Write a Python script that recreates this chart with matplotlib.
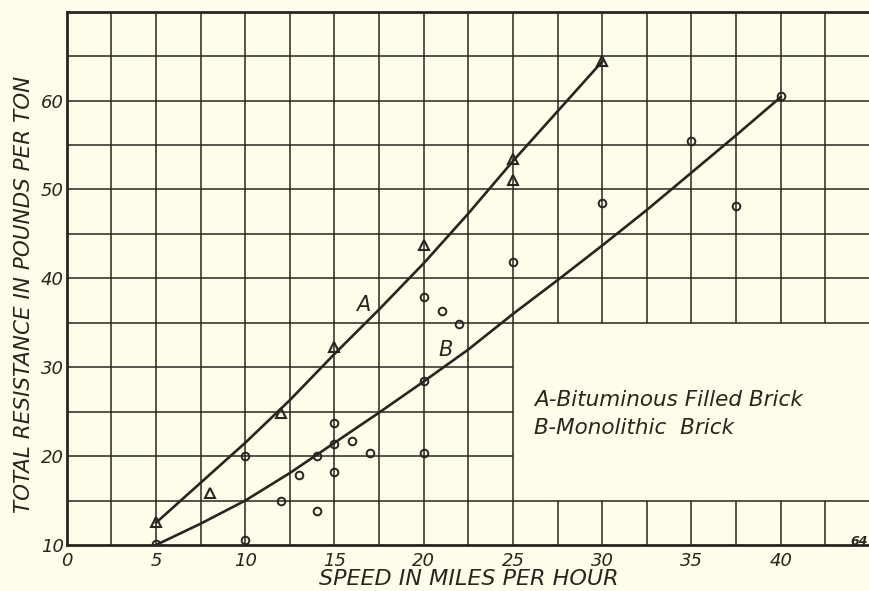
import numpy as np
import matplotlib.pyplot as plt

# readings (speed mph, resistance lb/ton)
tri_x = [5, 8, 12, 15, 20, 25, 25, 30]
tri_y = [12.6, 15.8, 24.9, 32.3, 43.8, 53.4, 51.1, 64.4]

circ_x = [5, 10, 10, 12, 13, 14, 14, 15, 15, 15, 16, 17, 20, 20, 20, 21, 22, 25, 30, 35, 37.5, 40]
circ_y = [10.1, 20.0, 10.6, 15.0, 17.9, 13.8, 20.0, 23.7, 21.4, 18.2, 21.7, 20.3,
          28.4, 20.3, 37.9, 36.3, 34.9, 41.8, 48.5, 55.4, 48.1, 60.5]

curve_a_x = [5, 7.5, 10, 12.5, 15, 17.5, 20, 22.5, 25, 27.5, 30]
curve_a_y = [12.5, 17.0, 21.5, 26.3, 31.5, 36.5, 41.7, 47.3, 53.2, 58.8, 64.4]

curve_b_x = [5, 7.5, 10, 12.5, 15, 17.5, 20, 22.5, 25, 27.5, 30, 32.5, 35, 37.5, 40]
curve_b_y = [10.0, 12.4, 15.0, 18.1, 21.5, 24.9, 28.4, 32.0, 36.0, 39.8, 43.7, 47.7, 51.9, 56.1, 60.4]

x_ticks = [0, 5, 10, 15, 20, 25, 30, 35, 40]
y_ticks = [10, 20, 30, 40, 50, 60]

paper = "#fdfde9"
ink = "#2a2420"
font = dict(family="DejaVu Sans", style="italic", color=ink)

fig = plt.figure(figsize=(8.7, 5.91), dpi=100, facecolor=paper)
ax = fig.add_axes([0.0767, 0.0778, 0.9233, 0.9024])
ax.set_facecolor(paper)
ax.set_xlim(0, 45)
ax.set_ylim(10, 70)

# grid, with the blank panel for the legend text (x 25-45, y 15-35)
for gx in np.arange(2.5, 45, 2.5):
    if gx > 25:
        ax.vlines(gx, 10, 15, color=ink, lw=1.1, zorder=1)
        ax.vlines(gx, 35, 70, color=ink, lw=1.1, zorder=1)
    else:
        ax.vlines(gx, 10, 70, color=ink, lw=1.1, zorder=1)
for gy in np.arange(15, 70, 5):
    if 15 < gy < 35:
        ax.hlines(gy, 0, 25, color=ink, lw=1.1, zorder=1)
    else:
        ax.hlines(gy, 0, 45, color=ink, lw=1.1, zorder=1)

for side in ["left", "bottom", "top"]:
    ax.spines[side].set_color(ink)
    ax.spines[side].set_linewidth(2)
ax.spines["right"].set_visible(False)

ax.plot(curve_a_x, curve_a_y, color=ink, lw=1.9, zorder=3)
ax.plot(curve_b_x, curve_b_y, color=ink, lw=1.9, zorder=3)
ax.plot(tri_x, tri_y, ls="none", marker="^", ms=7.5, mfc="none", mec=ink, mew=1.5, zorder=4)
ax.plot(circ_x, circ_y, ls="none", marker="o", ms=5.5, mfc="none", mec=ink, mew=1.4, zorder=4)

ax.text(16.6, 37.0, "A", fontsize=15, ha="center", va="center", **font)
ax.text(21.2, 31.9, "B", fontsize=15, ha="center", va="center", **font)
ax.text(26.2, 26.3, "A-Bituminous Filled Brick", fontsize=15.5, ha="left", va="center", **font)
ax.text(26.2, 23.2, "B-Monolithic  Brick", fontsize=15.5, ha="left", va="center", **font)

ax.set_xticks(x_ticks)
ax.set_xticklabels([str(v) for v in x_ticks], fontsize=13, **font)
ax.set_yticks(y_ticks)
ax.set_yticklabels([str(v) for v in y_ticks], fontsize=13, **font)
ax.tick_params(axis="x", length=0, pad=5)
ax.tick_params(axis="y", length=0, pad=2)

ax.set_xlabel("SPEED IN MILES PER HOUR", fontsize=16, labelpad=-1, **font)
ax.set_ylabel("TOTAL RESISTANCE IN POUNDS PER TON", fontsize=15.5, **font)
ax.yaxis.set_label_coords(-0.041, 0.47)

fig.text(0.998, 0.072, "64", fontsize=9, weight="bold", ha="right", va="bottom", **font)

fig.savefig("out.png", dpi=100, facecolor=paper)
